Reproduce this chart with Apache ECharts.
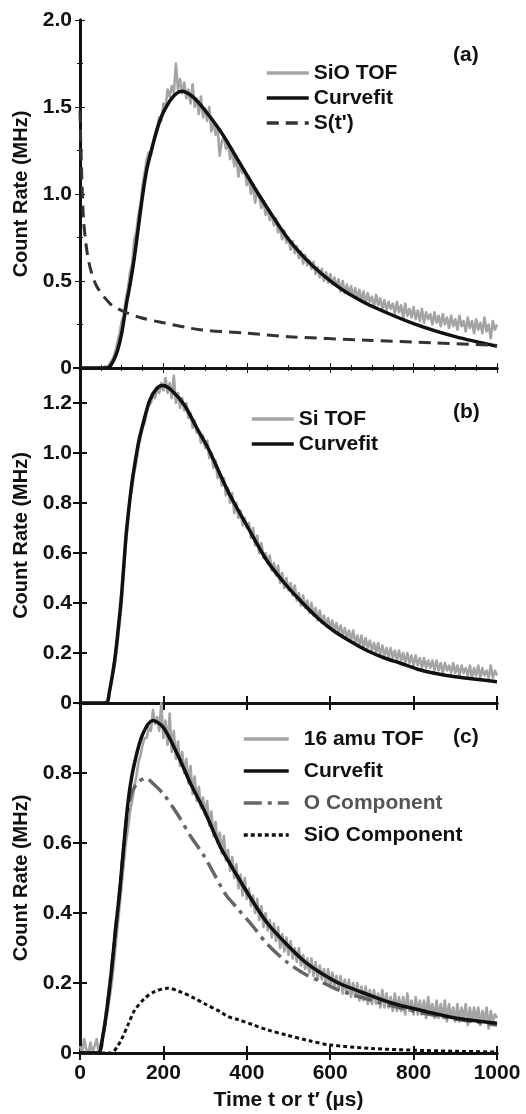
<!DOCTYPE html>
<html><head><meta charset="utf-8">
<script src="https://cdn.jsdelivr.net/npm/echarts@6/dist/echarts.min.js"></script>
<style>html,body{margin:0;padding:0;background:#fff}#c{width:526px;height:1114px}</style>
</head><body><div id="c"></div>
<script>
// ---- data ----
const tofTime = [0,5,10,15,20,25,30,35,40,45,50,55,60,65,70,75,80,85,90,95,100,105,110,115,120,125,130,135,140,145,150,155,160,165,170,175,180,185,190,195,200,205,210,215,220,225,230,235,240,245,250,255,260,265,270,275,280,285,290,295,300,305,310,315,320,325,330,335,340,345,350,355,360,365,370,375,380,385,390,395,400,405,410,415,420,425,430,435,440,445,450,455,460,465,470,475,480,485,490,495,500,505,510,515,520,525,530,535,540,545,550,555,560,565,570,575,580,585,590,595,600,605,610,615,620,625,630,635,640,645,650,655,660,665,670,675,680,685,690,695,700,705,710,715,720,725,730,735,740,745,750,755,760,765,770,775,780,785,790,795,800,805,810,815,820,825,830,835,840,845,850,855,860,865,870,875,880,885,890,895,900,905,910,915,920,925,930,935,940,945,950,955,960,965,970,975,980,985,990,995,1000];

// panel (a)
const sioTof = [0,0,0,0,0,0,0,0,0,0,
  0,0,0.01,0,0.02,0.04,0.06,0.1,0.15,0.2,
  0.27,0.3,0.4,0.46,0.55,0.6,0.74,0.78,0.88,0.94,
  1.05,1.12,1.2,1.24,1.22,1.28,1.35,1.38,1.44,1.42,
  1.52,1.5,1.6,1.56,1.62,1.58,1.75,1.6,1.66,1.58,
  1.64,1.55,1.6,1.52,1.63,1.5,1.55,1.46,1.56,1.44,
  1.49,1.42,1.5,1.36,1.42,1.34,1.38,1.22,1.3,1.33,
  1.26,1.3,1.2,1.26,1.16,1.22,1.1,1.17,1.12,1.14,
  1.05,1.1,1.0,1.06,0.95,1.01,0.98,0.92,0.96,0.88,
  0.92,0.85,0.88,0.82,0.86,0.78,0.8,0.74,0.79,0.72,
  0.75,0.68,0.73,0.66,0.7,0.63,0.67,0.6,0.65,0.59,
  0.62,0.57,0.61,0.54,0.58,0.52,0.57,0.5,0.55,0.49,
  0.54,0.48,0.52,0.47,0.51,0.44,0.5,0.43,0.48,0.42,
  0.47,0.41,0.46,0.4,0.45,0.38,0.44,0.37,0.43,0.38,
  0.41,0.35,0.42,0.36,0.4,0.34,0.39,0.33,0.38,0.34,
  0.37,0.31,0.38,0.32,0.36,0.29,0.37,0.3,0.34,0.29,
  0.35,0.28,0.33,0.27,0.34,0.26,0.32,0.28,0.31,0.25,
  0.32,0.26,0.3,0.24,0.31,0.25,0.29,0.23,0.3,0.24,
  0.28,0.22,0.3,0.24,0.27,0.21,0.29,0.23,0.27,0.2,
  0.28,0.22,0.26,0.2,0.29,0.21,0.25,0.17,0.27,0.22,
  0.25];
const fitATime = [0,60,70,80,90,100,110,120,130,140,150,160,170,180,190,200,220,243,270,300,340,380,420,460,500,540,580,620,660,700,800,900,1000];
const fitAValue = [0,0,0.005,0.04,0.1,0.2,0.35,0.48,0.63,0.81,0.99,1.14,1.24,1.33,1.41,1.47,1.55,1.59,1.56,1.48,1.35,1.19,1.03,0.88,0.74,0.63,0.54,0.465,0.405,0.355,0.255,0.18,0.125];
const sTime = [0,3,8,15,24,40,72,100,144,200,288,400,500,688,850,1000];
const sValue = [1.48,1.2,0.87,0.7,0.58,0.47,0.37,0.33,0.29,0.26,0.22,0.2,0.18,0.16,0.145,0.13];

// panel (b)
const siTof = [0,0,0,0,0,0,0,0,0,0,
  0,0,0,0.01,0.04,0.08,0.12,0.17,0.24,0.32,
  0.4,0.52,0.64,0.72,0.82,0.86,0.92,0.96,1.02,1.06,
  1.1,1.12,1.16,1.19,1.2,1.23,1.22,1.26,1.24,1.28,
  1.25,1.3,1.24,1.28,1.22,1.31,1.2,1.24,1.18,1.22,
  1.17,1.2,1.14,1.16,1.1,1.13,1.08,1.09,1.04,1.07,
  1.02,1.05,0.98,1.0,0.94,0.97,0.9,0.92,0.87,0.9,
  0.83,0.86,0.8,0.84,0.76,0.8,0.74,0.77,0.71,0.74,
  0.7,0.72,0.66,0.7,0.63,0.67,0.6,0.64,0.58,0.6,
  0.56,0.59,0.53,0.56,0.51,0.55,0.48,0.52,0.46,0.5,
  0.45,0.48,0.43,0.47,0.41,0.44,0.39,0.43,0.38,0.41,
  0.36,0.4,0.35,0.38,0.33,0.37,0.32,0.35,0.31,0.34,
  0.3,0.33,0.29,0.32,0.28,0.31,0.27,0.3,0.26,0.29,
  0.25,0.29,0.24,0.27,0.23,0.27,0.22,0.26,0.22,0.25,
  0.21,0.24,0.2,0.24,0.19,0.23,0.19,0.22,0.18,0.22,
  0.18,0.21,0.17,0.21,0.17,0.2,0.16,0.2,0.16,0.19,
  0.15,0.19,0.15,0.18,0.14,0.18,0.14,0.17,0.14,0.17,
  0.13,0.17,0.13,0.16,0.12,0.16,0.13,0.15,0.12,0.16,
  0.12,0.15,0.11,0.15,0.12,0.14,0.11,0.15,0.1,0.14,
  0.11,0.15,0.1,0.14,0.11,0.13,0.1,0.15,0.1,0.13,
  0.11];
const fitBTime = [0,63,70,83,90,99,105,111,120,127,140,147,167,185,199,220,251,280,307,340,360,400,448,490,528,570,607,650,688,730,767,810,847,900,950,1000];
const fitBValue = [0,0,0.04,0.17,0.27,0.42,0.55,0.68,0.82,0.91,1.04,1.09,1.21,1.26,1.27,1.25,1.19,1.1,1.02,0.9,0.83,0.71,0.57,0.48,0.41,0.34,0.29,0.245,0.21,0.18,0.16,0.135,0.12,0.105,0.095,0.085];

// panel (c)
const amu16Tof = [0.02,0,0.04,0.01,0,0.03,0,0.02,0.04,0,
  0.03,0.05,0.08,0.11,0.15,0.19,0.24,0.3,0.36,0.42,
  0.48,0.54,0.6,0.64,0.69,0.72,0.76,0.79,0.83,0.85,
  0.88,0.9,0.9,0.93,0.92,0.98,0.94,0.96,0.92,1.0,
  0.9,0.95,0.88,0.97,0.86,0.92,0.84,0.89,0.82,0.86,
  0.8,0.84,0.77,0.82,0.74,0.79,0.72,0.76,0.7,0.73,
  0.68,0.72,0.65,0.69,0.62,0.66,0.6,0.63,0.57,0.62,
  0.55,0.58,0.52,0.56,0.5,0.54,0.47,0.51,0.45,0.5,
  0.44,0.47,0.42,0.45,0.4,0.44,0.38,0.42,0.36,0.4,
  0.35,0.38,0.33,0.37,0.32,0.36,0.3,0.34,0.29,0.33,
  0.28,0.32,0.27,0.3,0.26,0.3,0.25,0.28,0.24,0.27,
  0.23,0.27,0.22,0.26,0.21,0.25,0.21,0.24,0.2,0.24,
  0.19,0.23,0.19,0.22,0.18,0.22,0.17,0.21,0.17,0.21,
  0.16,0.2,0.16,0.2,0.15,0.19,0.15,0.19,0.14,0.18,
  0.14,0.18,0.14,0.17,0.13,0.18,0.13,0.17,0.13,0.16,
  0.12,0.17,0.12,0.16,0.12,0.16,0.11,0.17,0.12,0.15,
  0.11,0.16,0.11,0.15,0.11,0.15,0.1,0.16,0.11,0.14,
  0.1,0.15,0.1,0.14,0.1,0.15,0.09,0.14,0.1,0.13,
  0.09,0.14,0.09,0.13,0.1,0.14,0.08,0.13,0.09,0.13,
  0.09,0.13,0.08,0.12,0.09,0.13,0.07,0.12,0.09,0.11,
  0.1];
const fitCTime = [0,43,55,65,75,85,95,111,120,131,150,175,200,235,265,299,336,355,380,416,450,496,540,576,620,695,750,831,900,1000];
const fitCValue = [0,0,0.05,0.13,0.23,0.35,0.46,0.67,0.76,0.83,0.91,0.95,0.93,0.85,0.77,0.69,0.59,0.55,0.5,0.43,0.37,0.31,0.26,0.23,0.2,0.165,0.142,0.118,0.1,0.085];
const oCompTime = [0,43,55,65,75,85,95,111,123,140,159,175,200,235,265,299,336,351,380,416,450,496,540,576,620,695,750,831,900,1000];
const oCompValue = [0,0,0.05,0.13,0.23,0.35,0.46,0.66,0.74,0.775,0.785,0.77,0.74,0.68,0.62,0.56,0.48,0.45,0.41,0.36,0.31,0.26,0.225,0.205,0.18,0.152,0.134,0.112,0.097,0.08];
const sioCompTime = [0,75,90,100,115,130,155,180,211,240,275,300,336,355,380,416,450,496,550,600,700,800,900,1000];
const sioCompValue = [0,0,0.02,0.04,0.08,0.12,0.156,0.176,0.185,0.175,0.156,0.14,0.118,0.104,0.095,0.08,0.066,0.051,0.035,0.023,0.013,0.008,0.005,0.003];

// ---- chart ----
const FONT = '"Liberation Sans", Arial, Helvetica, sans-serif';
const zip = (a,b) => a.map((t,i)=>[t,b[i]]);
const chart = echarts.init(document.getElementById('c'), null, {renderer:'canvas'});

const grids = [
  {left:80, right:29, top:20, height:348},
  {left:80, right:29, top:368, height:335},
  {left:80, right:29, top:703, height:350}
];
const yMax = [2.0, 1.34, 1.0];
const yInt = [0.5, 0.2, 0.2];
const fmtY = v => v === 0 ? '0' : v.toFixed(1);

const xAxes = [], yAxes = [];
for (let i=0;i<3;i++){
  const thin = i===0;
  const tick = {show:true, inside:true, length: thin?5:7, lineStyle:{color:'#111', width: thin?1:2}};
  const minor = {show: thin, length:3, lineStyle:{color:'#111', width:1}};
  const line = {show:true, lineStyle:{color:'#111', width:3}};
  xAxes.push({type:'value', gridIndex:i, position:'bottom', min:0, max:1000, interval:200,
    axisLine:line, axisTick:tick, minorTick:Object.assign({splitNumber:4},minor), splitLine:{show:false}, minorSplitLine:{show:false},
    axisLabel:{show:i===2, color:'#111', fontFamily:FONT, fontWeight:'bold', fontSize:21, margin:10, formatter: v => String(v)},
    name: i===2 ? 'Time t or t\u2032 (\u00b5s)' : '', nameLocation:'middle', nameGap:37,
    nameTextStyle:{color:'#111', fontFamily:FONT, fontWeight:'bold', fontSize:21}});
  xAxes.push({type:'value', gridIndex:i, position:'top', min:0, max:1000, interval:200,
    axisLine:line, axisTick:tick, minorTick:Object.assign({splitNumber:4},minor), splitLine:{show:false},
    axisLabel:{show:false}});
  yAxes.push({type:'value', gridIndex:i, position:'left', min:0, max:yMax[i], interval:yInt[i],
    axisLine:line, axisTick:tick, minorTick:Object.assign({splitNumber:2},minor), splitLine:{show:false},
    axisLabel:{show:true, color:'#111', fontFamily:FONT, fontWeight:'bold', fontSize:21, margin:8, formatter:fmtY,
      showMaxLabel: i===0},
    name:'Count Rate (MHz)', nameLocation:'middle', nameGap:47, nameRotate:90,
    nameTextStyle:{color:'#111', fontFamily:FONT, fontWeight:'bold', fontSize:20}});
  yAxes.push({type:'value', gridIndex:i, position:'right', min:0, max:yMax[i], interval:yInt[i],
    axisLine:line, axisTick:tick, minorTick:Object.assign({splitNumber:2},minor), splitLine:{show:false},
    axisLabel:{show:false}});
}

const dataStyle = {color:'#a4a4a4', width:2.6};
const fitStyle = {color:'#111', width:3.5};
function ser(name, gi, data, lineStyle, smooth, z){
  return {type:'line', name, xAxisIndex:gi*2, yAxisIndex:gi*2, data, symbol:'none', showSymbol:false,
    smooth: smooth ? 0.3 : false,
    lineStyle:Object.assign({cap:'butt', join:'round'}, lineStyle), itemStyle:{color:lineStyle.color}, z:z||2, animation:false};
}

const series = [
  ser('SiO TOF', 0, zip(tofTime, sioTof), dataStyle, false, 2),
  ser('Curvefit', 0, zip(fitATime, fitAValue), fitStyle, true, 3),
  ser("S(t')", 0, zip(sTime, sValue), {color:'#333', width:3, type:[12,7]}, true, 3),
  ser('Si TOF', 1, zip(tofTime, siTof), dataStyle, false, 2),
  ser('Curvefit ', 1, zip(fitBTime, fitBValue), fitStyle, true, 3),
  ser('16 amu TOF', 2, zip(tofTime, amu16Tof), dataStyle, false, 2),
  ser('Curvefit  ', 2, zip(fitCTime, fitCValue), fitStyle, true, 4),
  ser('O Component', 2, zip(oCompTime, oCompValue), {color:'#666', width:3.5, type:[18,6,4,6]}, true, 3),
  ser('SiO Component', 2, zip(sioCompTime, sioCompValue), {color:'#111', width:3, type:[4,3]}, true, 3)
];

const legText = {color:'#111', fontFamily:FONT, fontWeight:'bold', fontSize:21, lineHeight:22};
const hideSym = {opacity:0};
const legLine = {width:3.5};
const legends = [
  {left:265, top:62, padding:0, orient:'vertical', itemWidth:42, itemHeight:14, itemGap:3, textStyle:legText,
    itemStyle:hideSym, lineStyle:legLine, data:['SiO TOF','Curvefit',"S(t')"], selectedMode:false},
  {left:250, top:408, padding:0, orient:'vertical', itemWidth:42, itemHeight:14, itemGap:3, textStyle:legText,
    itemStyle:hideSym, lineStyle:legLine, data:['Si TOF','Curvefit '], selectedMode:false},
  {left:242, top:728, padding:0, orient:'vertical', itemWidth:45, itemHeight:14, itemGap:10,
    itemStyle:hideSym, lineStyle:legLine,
    textStyle:Object.assign({}, legText, {padding:[0,0,0,10]}),
    data:['16 amu TOF','Curvefit  ',{name:'O Component', textStyle:{color:'#555'}},'SiO Component'], selectedMode:false}
];

const labelStyle = {fill:'#111', font:'bold 21px ' + FONT};
const graphic = [
  {type:'text', left:453, top:45, style:Object.assign({text:'(a)'}, labelStyle)},
  {type:'text', left:453, top:402, style:Object.assign({text:'(b)'}, labelStyle)},
  {type:'text', left:453, top:727, style:Object.assign({text:'(c)'}, labelStyle)}
];

chart.setOption({
  animation:false,
  backgroundColor:'#fff',
  grid:grids, xAxis:xAxes, yAxis:yAxes, series, legend:legends, graphic
});
</script></body></html>
